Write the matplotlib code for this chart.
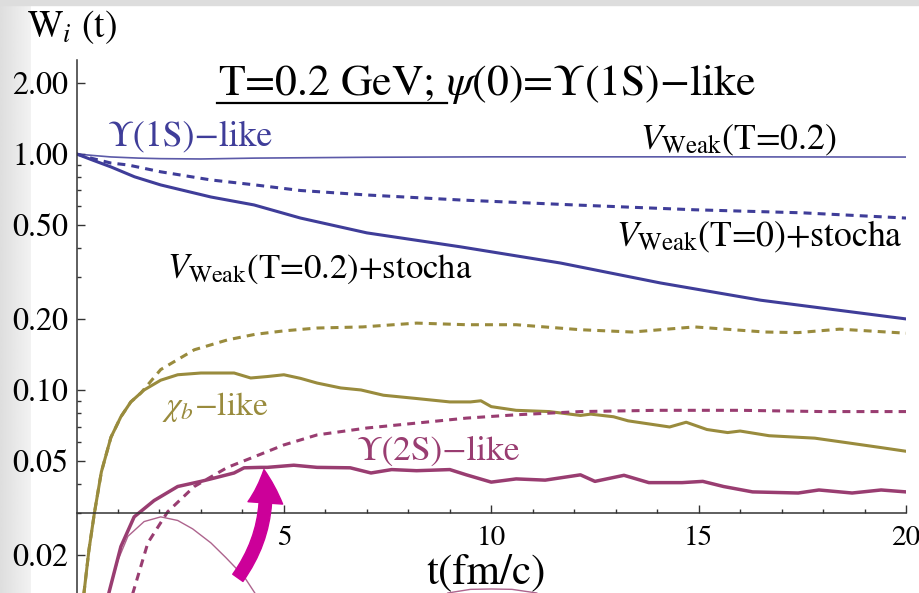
import numpy as np
import matplotlib
matplotlib.use('Agg')
import matplotlib.pyplot as plt
from matplotlib.ticker import NullFormatter
from matplotlib.patches import FancyArrowPatch, Rectangle
from matplotlib.lines import Line2D

plt.rcParams['font.family'] = ['STIXGeneral', 'DejaVu Serif']
plt.rcParams['mathtext.fontset'] = 'stix'

# Mathematica default colours
blue = '#3f3d99'
olive = '#998b3d'
magenta = '#993d71'

# V_Weak(T=0.2), no stochastic term (thin blue)
t_weak = [0, 0.4, 0.83, 1.5, 2.03, 3.0, 4.3, 7.0, 10, 15, 20]
w_weak = [1.0, 0.985, 0.971, 0.96, 0.955, 0.952, 0.96, 0.968, 0.972, 0.972, 0.97]

# V_Weak(T=0.2)+stocha, 1S (thick blue)
t_1s = [0, 0.4, 0.83, 1.4, 2.03, 3.24, 4.28, 5.4, 7.0, 9.26, 11.67, 14.08, 16.5, 20]
w_1s = [1.0, 0.94, 0.881, 0.80, 0.739, 0.657, 0.608, 0.535, 0.463, 0.404, 0.345, 0.284, 0.24, 0.20]

# V_Weak(T=0)+stocha, 1S (dashed blue)
t_1s_t0 = [0, 0.4, 0.83, 1.24, 2.03, 3.24, 4.28, 5.4, 7.0, 9.26, 12, 14.9, 17.5, 20]
w_1s_t0 = [1.0, 0.955, 0.915, 0.898, 0.84, 0.776, 0.74, 0.70, 0.67, 0.638, 0.608, 0.58, 0.563, 0.535]

# chi_b-like, T=0.2 (solid olive)
t_chib = [0.10, 0.18, 0.30, 0.43, 0.60, 0.83, 1.07, 1.31, 1.63, 2.03, 2.44, 3.0, 3.8, 4.2,
          4.6, 5.0, 5.4, 5.8, 6.37, 6.86, 7.4, 8.2, 9.0, 9.5, 9.75, 10.0, 10.6, 11.4, 12.15,
          12.4, 12.95, 13.3, 14.3, 14.7, 15.2, 15.7, 16.0, 16.7, 17.8, 18.6, 19.4, 20.0]
w_chib = [0.007, 0.0138, 0.021, 0.030, 0.045, 0.063, 0.077, 0.089, 0.100, 0.110, 0.116, 0.118,
          0.118, 0.1124, 0.114, 0.116, 0.112, 0.107, 0.102, 0.100, 0.095, 0.092, 0.089, 0.089,
          0.090, 0.085, 0.082, 0.081, 0.078, 0.079, 0.077, 0.074, 0.0697, 0.073, 0.068, 0.066,
          0.067, 0.064, 0.0625, 0.0597, 0.057, 0.055]

# chi_b-like, T=0 (dashed olive)
t_chib_t0 = [0.10, 0.18, 0.30, 0.43, 0.60, 0.83, 1.07, 1.31, 1.55, 2.03, 2.84, 3.64, 4.3, 5.0,
             5.8, 6.9, 8.2, 9.4, 10.6, 12.15, 13.4, 14.9, 16.6, 17.4, 18.4, 20.0]
w_chib_t0 = [0.007, 0.0138, 0.021, 0.030, 0.045, 0.063, 0.077, 0.089, 0.097, 0.122, 0.148, 0.163,
             0.172, 0.178, 0.183, 0.185, 0.192, 0.189, 0.189, 0.18, 0.176, 0.185, 0.176, 0.175,
             0.181, 0.174]

# Upsilon(2S)-like, T=0.2 (solid magenta)
t_2s = [0.6, 0.78, 1.07, 1.39, 1.87, 2.44, 3.0, 3.24, 3.8, 4.04, 4.44, 4.6, 5.24, 5.8, 6.6, 7.1,
        7.6, 8.2, 9.0, 9.4, 10.0, 10.6, 11.3, 12.15, 12.5, 13.2, 13.8, 14.6, 15.1, 15.6, 16.3,
        17.4, 17.9, 18.7, 19.4, 20.0]
w_2s = [0.009, 0.0138, 0.0217, 0.029, 0.034, 0.039, 0.041, 0.042, 0.0445, 0.0468, 0.047, 0.047,
        0.048, 0.047, 0.0468, 0.0445, 0.046, 0.0455, 0.046, 0.0437, 0.0407, 0.042, 0.0415, 0.0437,
        0.041, 0.0435, 0.0405, 0.0405, 0.041, 0.039, 0.037, 0.0366, 0.0377, 0.0366, 0.0377, 0.037]

# Upsilon(2S)-like, T=0 (dashed magenta)
t_2s_t0 = [1.2, 1.36, 1.72, 2.2, 2.84, 3.64, 4.2, 5.0, 5.8, 7.0, 8.2, 9.4, 10.6, 12.15, 14.0,
           16.0, 18.0, 20.0]
w_2s_t0 = [0.009, 0.0138, 0.0225, 0.0305, 0.039, 0.047, 0.0514, 0.0585, 0.0645, 0.069, 0.0724,
           0.076, 0.0785, 0.081, 0.082, 0.082, 0.081, 0.081]

# Upsilon(2S)-like without stochastic term (thin magenta)
t_2s_weak = [0.6, 0.78, 1.0, 1.24, 1.63, 2.03, 2.44, 2.8, 3.24, 3.6, 4.04, 4.3, 5.0, 6.5, 8.0,
             8.95, 9.5, 10.0, 10.5, 11.1, 12.0]
w_2s_weak = [0.009, 0.0138, 0.019, 0.024, 0.0277, 0.029, 0.028, 0.0258, 0.0225, 0.0195, 0.0162,
             0.0138, 0.009, 0.004, 0.009, 0.0138, 0.0143, 0.01435, 0.0143, 0.0138, 0.009]

y_major = [2.0, 1.0, 0.5, 0.2, 0.1, 0.05, 0.02]
y_major_labels = ['2.00', '1.00', '0.50', '0.20', '0.10', '0.05', '0.02']
y_minor = [0.9, 0.8, 0.7, 0.6, 0.4, 0.3, 0.09, 0.08, 0.07, 0.06, 0.04, 0.03]
x_major = [5, 10, 15, 20]
x_minor = [i for i in range(1, 20) if i % 5 != 0]

W, H = 919, 593
fig = plt.figure(figsize=(W / 100, H / 100), dpi=100)

# grey slide background on the left / top
bg = fig.add_axes([0, 0, 30 / W, 1], zorder=-2)
grad = np.linspace(0.87, 0.95, 50).reshape(1, -1)
bg.imshow(grad, cmap='gray', vmin=0, vmax=1, aspect='auto', extent=[0, 1, 0, 1])
bg.axis('off')
fig.add_artist(Rectangle((0, 1 - 5 / H), 1, 5 / H, transform=fig.transFigure,
                         color='#dddddd', zorder=-1))

ax = fig.add_axes([76.5 / W, 0, (906 - 76.5) / W, (H - 60) / H])
ax.set_facecolor('none')
ax.set_yscale('log')

ax.plot(t_weak, w_weak, color=blue, lw=1.2, alpha=0.85)
ax.plot(t_1s_t0, w_1s_t0, color=blue, lw=2.2, ls=(0, (2.6, 2.0)))
ax.plot(t_1s, w_1s, color=blue, lw=2.2)
ax.plot(t_chib_t0, w_chib_t0, color=olive, lw=2.2, ls=(0, (2.6, 2.0)))
ax.plot(t_chib, w_chib, color=olive, lw=2.2)
ax.plot(t_2s_t0, w_2s_t0, color=magenta, lw=2.2, ls=(0, (2.6, 2.0)))
ax.plot(t_2s_weak, w_2s_weak, color=magenta, lw=1.0, alpha=0.8)
ax.plot(t_2s, w_2s, color=magenta, lw=2.5)

ax.set_xlim(0, 20)
ax.set_ylim(0.0138, 2.5)

for s in ['top', 'right']:
    ax.spines[s].set_visible(False)
ax.spines['bottom'].set_position(('data', 0.03))
for s in ['left', 'bottom']:
    ax.spines[s].set_color('#333333')
    ax.spines[s].set_linewidth(1.1)

ax.set_yticks(y_major)
ax.set_yticklabels(y_major_labels)
ax.set_yticks(y_minor, minor=True)
ax.yaxis.set_minor_formatter(NullFormatter())
ax.set_xticks(x_major)
ax.set_xticks(x_minor, minor=True)
ax.tick_params(axis='y', which='major', direction='in', length=6, width=1, labelsize=23, pad=6,
               color='#333333')
ax.tick_params(axis='y', which='minor', direction='in', length=3, width=1, color='#333333')
ax.tick_params(axis='x', which='major', direction='in', length=6, width=1, labelsize=21, pad=9,
               color='#333333')
ax.tick_params(axis='x', which='minor', direction='in', length=3, width=1, color='#333333')

# curve labels
ax.text(0.76, 1.09, 'Υ(1S)−like', color=blue, fontsize=25.7)
ax.text(13.59, 1.04, r'$V_{\rm Weak}$(T=0.2)', color='black', fontsize=25.7)
ax.text(13.0, 0.404, r'$V_{\rm Weak}$(T=0)+stocha', color='black', fontsize=25.7)
ax.text(2.18, 0.30, r'$V_{\rm Weak}$(T=0.2)+stocha', color='black', fontsize=25)
ax.text(2.06, 0.0785, r'$\chi_b$−like', color=olive, fontsize=24)
ax.text(6.76, 0.0506, 'Υ(2S)−like', color=magenta, fontsize=25.5)

arrow = FancyArrowPatch((3.89, 0.016), (4.52, 0.046), connectionstyle='arc3,rad=0.2',
                        arrowstyle='simple,head_length=24,head_width=25,tail_width=9',
                        mutation_scale=1, color='#cc0099', shrinkA=0, shrinkB=0, zorder=5)
ax.add_patch(arrow)

# title, axis labels
fig.text(218 / W, 1 - 95 / H, r'T=0.2 GeV; $\psi$(0)=Υ(1S)−like', fontsize=31.5, va='baseline')
fig.add_artist(Line2D([217 / W, 447 / W], [1 - 103 / H, 1 - 103 / H], color='black', lw=1.6))
fig.text(27 / W, 1 - 37 / H, r'W$_{i}$ (t)', fontsize=27, va='baseline')
fig.text(486 / W, 1 - 583 / H, 't(fm/c)', fontsize=31, ha='center', va='baseline')

fig.savefig('out.png', dpi=100)
